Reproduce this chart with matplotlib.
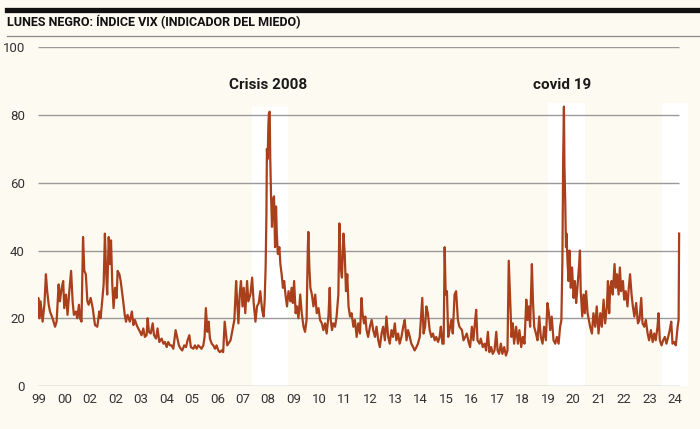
import matplotlib
matplotlib.use('Agg')
import matplotlib.pyplot as plt

# VIX close (x = position on the year axis)
t_9906 = [1998.93, 1998.96, 1999.00, 1999.05, 1999.13, 1999.20, 1999.26, 1999.31, 1999.37, 1999.42,
          1999.52, 1999.62, 1999.68, 1999.76, 1999.81, 1999.88, 1999.94, 1999.98, 2000.05, 2000.11,
          2000.18, 2000.25, 2000.31, 2000.36, 2000.44, 2000.49, 2000.56, 2000.60, 2000.66, 2000.72,
          2000.77, 2000.83, 2000.89, 2000.94, 2001.02, 2001.10, 2001.19, 2001.28, 2001.36, 2001.41,
          2001.46, 2001.53, 2001.58, 2001.62, 2001.67, 2001.73, 2001.78, 2001.82, 2001.87, 2001.92,
          2001.98, 2002.04, 2002.08, 2002.15, 2002.20, 2002.25, 2002.30, 2002.36, 2002.41, 2002.47,
          2002.56, 2002.64, 2002.70, 2002.76, 2002.83, 2002.89, 2002.96, 2003.02, 2003.09, 2003.15,
          2003.22, 2003.26, 2003.31, 2003.38, 2003.46, 2003.51, 2003.59, 2003.65, 2003.72, 2003.81,
          2003.88, 2003.94, 2004.01, 2004.07, 2004.14, 2004.20, 2004.27, 2004.36, 2004.43, 2004.49,
          2004.56, 2004.62, 2004.70, 2004.77, 2004.83, 2004.90, 2004.96, 2005.06, 2005.12, 2005.19,
          2005.25, 2005.32, 2005.38, 2005.45, 2005.50, 2005.55, 2005.61, 2005.66, 2005.71, 2005.78,
          2005.84, 2005.91, 2005.97, 2006.04, 2006.10, 2006.17, 2006.23, 2006.29]
v_9906 = [21, 26, 20, 25, 19, 24, 33, 28, 24, 22,
          20, 17.5, 19, 30, 25, 29, 31, 23, 27, 21,
          28, 34, 25, 21, 22, 20, 24, 20, 19, 44,
          34, 33, 25, 24, 26, 23, 18, 17.5, 22, 20,
          24, 30, 45, 35, 27, 44, 36, 43, 30, 23,
          29, 26, 34, 33, 31, 28, 25, 21, 19, 21,
          19, 22, 18, 19.5, 18, 17, 16, 15, 17, 14.5,
          15, 20, 16, 15.5, 18.5, 15, 14, 17, 13, 14,
          12.5, 13, 11.5, 13, 12, 12, 11, 16.5, 14, 12,
          11, 10.5, 12, 11.5, 13.5, 15, 11.5, 11, 12, 11,
          12, 11.5, 11, 12, 14.5, 23, 16, 19, 14, 12.5,
          12, 11, 12, 10.5, 10, 10.5, 10, 19]

t_0615 = [2006.39, 2006.52, 2006.62, 2006.67, 2006.74, 2006.78, 2006.83, 2006.88, 2006.93, 2006.99,
          2007.04, 2007.10, 2007.17, 2007.22, 2007.30, 2007.37, 2007.43, 2007.50, 2007.56, 2007.63,
          2007.69, 2007.76, 2007.82, 2007.86, 2007.90, 2007.93, 2007.95, 2007.98, 2008.01, 2008.03,
          2008.06, 2008.08, 2008.11, 2008.15, 2008.19, 2008.23, 2008.27, 2008.31, 2008.34, 2008.38,
          2008.44, 2008.48, 2008.53, 2008.58, 2008.63, 2008.68, 2008.74, 2008.80, 2008.87, 2008.92,
          2008.97, 2009.02, 2009.08, 2009.13, 2009.19, 2009.26, 2009.32, 2009.39, 2009.45, 2009.51,
          2009.56, 2009.58, 2009.62, 2009.66, 2009.72, 2009.78, 2009.85, 2009.91, 2009.98, 2010.04,
          2010.11, 2010.17, 2010.24, 2010.30, 2010.37, 2010.42, 2010.46, 2010.51, 2010.56, 2010.63,
          2010.69, 2010.76, 2010.80, 2010.85, 2010.90, 2010.96, 2011.01, 2011.06, 2011.11, 2011.16,
          2011.22, 2011.28, 2011.35, 2011.41, 2011.48, 2011.54, 2011.61, 2011.67, 2011.71, 2011.77,
          2011.82, 2011.87, 2011.93, 2012.00, 2012.07, 2012.13, 2012.20, 2012.26, 2012.33, 2012.39,
          2012.46, 2012.52, 2012.59, 2012.65, 2012.72, 2012.78, 2012.85, 2012.91, 2012.98, 2013.04,
          2013.11, 2013.17, 2013.24, 2013.31, 2013.37, 2013.44, 2013.50, 2013.57, 2013.63, 2013.70,
          2013.76, 2013.83, 2013.89, 2013.96, 2014.02, 2014.06, 2014.11, 2014.17, 2014.22, 2014.28,
          2014.35, 2014.42, 2014.48, 2014.55, 2014.61, 2014.68, 2014.74, 2014.79, 2014.85, 2014.90,
          2014.94, 2014.98, 2015.03, 2015.08, 2015.13, 2015.20, 2015.26, 2015.33, 2015.39, 2015.46,
          2015.52]
v_0615 = [12, 13.5, 17.5, 19.5, 31, 25, 18.5, 27, 31, 23.5,
          29, 21.5, 31, 25, 27, 32, 24.5, 19, 23.5, 24.5,
          28, 22.5, 20.5, 25, 35, 50, 70, 67, 77.5, 80.5,
          81, 68, 57, 47, 55, 56, 41, 53, 45, 39,
          41, 36, 33, 29, 31, 27, 23.5, 28, 25, 29,
          24.5, 31, 21.5, 23.5, 20, 27, 21.5, 17.5, 16, 19.5,
          41, 45.5, 35, 29, 27, 23.5, 27, 21.5, 23, 19.5,
          18.5, 16.5, 18.5, 15.5, 20.5, 29, 19.5, 16.5, 18.5, 17.5,
          20.5, 27, 48, 35, 32, 45, 39, 28, 33, 23.5,
          20.5, 21.5, 17.5, 19.5, 14.5, 18.5, 15.5, 26, 21.5, 18.5,
          20.5, 16.5, 14.5, 17.5, 19.5, 16.5, 14.5, 17.5, 13.5, 11.5,
          15.5, 17.5, 13.5, 20.5, 14.5, 12.5, 16.5, 14.5, 18.5, 13.5,
          15.5, 12.5, 14.5, 17.5, 19.5, 13.5, 16.5, 14.5, 12.5, 11.5,
          10.5, 11.5, 12.5, 14.5, 21.5, 26, 15.5, 17.5, 23.5, 21.5,
          16.5, 14.5, 15.5, 13.5, 14.5, 13, 14.5, 17.5, 12.5, 12.5,
          41, 27, 28, 14.5, 16.5, 19.5, 15.5, 27, 28, 19.5,
          17.5]

t_1524 = [2015.62, 2015.68, 2015.75, 2015.81, 2015.88, 2015.94, 2016.01, 2016.07, 2016.14, 2016.18,
          2016.23, 2016.31, 2016.36, 2016.44, 2016.51, 2016.57, 2016.64, 2016.70, 2016.77, 2016.83,
          2016.90, 2016.97, 2017.02, 2017.08, 2017.15, 2017.21, 2017.28, 2017.35, 2017.41, 2017.46,
          2017.52, 2017.57, 2017.62, 2017.67, 2017.75, 2017.82, 2017.88, 2017.95, 2018.01, 2018.08,
          2018.15, 2018.20, 2018.25, 2018.30, 2018.37, 2018.41, 2018.46, 2018.53, 2018.59, 2018.66,
          2018.72, 2018.79, 2018.85, 2018.92, 2018.98, 2019.04, 2019.09, 2019.15, 2019.22, 2019.29,
          2019.35, 2019.42, 2019.48, 2019.53, 2019.57, 2019.60, 2019.63, 2019.65, 2019.68, 2019.71,
          2019.73, 2019.77, 2019.81, 2019.85, 2019.90, 2019.95, 2020.01, 2020.06, 2020.11, 2020.16,
          2020.22, 2020.26, 2020.29, 2020.35, 2020.40, 2020.45, 2020.50, 2020.56, 2020.61, 2020.66,
          2020.73, 2020.79, 2020.86, 2020.92, 2020.99, 2021.06, 2021.12, 2021.19, 2021.25, 2021.32,
          2021.36, 2021.41, 2021.45, 2021.50, 2021.55, 2021.62, 2021.67, 2021.72, 2021.78, 2021.83,
          2021.88, 2021.95, 2022.00, 2022.06, 2022.13, 2022.18, 2022.23, 2022.29, 2022.34, 2022.40,
          2022.47, 2022.54, 2022.60, 2022.67, 2022.72, 2022.79, 2022.85, 2022.92, 2022.98, 2023.05,
          2023.12, 2023.18, 2023.24, 2023.31, 2023.35, 2023.40, 2023.47, 2023.53, 2023.60, 2023.66,
          2023.73, 2023.79, 2023.85, 2023.90, 2023.96, 2024.03, 2024.10, 2024.14, 2024.16]
v_1524 = [16.5, 13.5, 14.5, 15.5, 13, 11.5, 17.5, 13.5, 19.5, 22.5,
          13.5, 12.5, 14, 11.5, 12.5, 10.5, 16, 10, 11.5, 9.5,
          10.5, 16, 10.5, 9.5, 12.5, 9.5, 11.5, 9, 10.5, 37,
          24.5, 14.5, 18.5, 12.5, 17.5, 12.5, 16.5, 11.5, 14.5, 12.5,
          25.5, 19.5, 23.5, 17.5, 36, 25.5, 17.5, 15.5, 13.5, 20.5,
          14.5, 12.5, 17.5, 13.5, 24.5, 21.5, 16.5, 20.5, 13.5, 12.5,
          14.5, 12.5, 17.5, 19.5, 37, 67, 82.5, 65, 55, 41,
          45, 37, 31, 40, 29, 35, 26, 31, 24.5, 29,
          35, 40, 28, 20.5, 27, 21.5, 28, 21.5, 19.5, 17.5,
          15.5, 21.5, 17.5, 23.5, 15.5, 21.5, 17.5, 25.5, 18.5, 23.5,
          31, 21.5, 29, 31, 27, 36, 29, 33, 27, 35,
          28, 31, 25.5, 28, 23.5, 29, 33, 27, 23.5, 20.5,
          24.5, 18.5, 19.5, 26, 18.5, 17.5, 19.5, 15.5, 13.5, 16.5,
          13, 15.5, 13.5, 17.5, 21.5, 13.5, 12, 13.5, 14.5, 12.5,
          14.5, 16.5, 19, 12.5, 13, 12, 17.5, 19.5, 45]

t = t_9906 + t_0615 + t_1524
vix = v_9906 + v_0615 + v_1524

tick_years = list(range(1999, 2025))
tick_labels = ['99', '00', '02', '02', '03', '04', '05', '06', '07', '08', '09', '10', '11', '12',
               '13', '14', '15', '16', '17', '18', '19', '20', '21', '22', '23', '24']

# highlighted periods (white bands) and their labels
bands = [(2007.36, 2008.78, 82.5), (2019.00, 2020.46, 83.5), (2023.48, 2024.51, 83.5)]
notes = [('Crisis 2008', 2007.98, 89), ('covid 19', 2019.56, 89)]

bg = '#fdfaf2'
red = '#a93f1b'
grid_c = '#9a9a9a'
fam = ['Roboto', 'DejaVu Sans']

fig = plt.figure(figsize=(7, 4.29), dpi=100, facecolor=bg)
ax = fig.add_axes([0.0536, 0.1002, 0.9293, 0.7895], facecolor=bg)

x0, x1 = 1998.93, 2024.51
ax.set_xlim(x0, x1)
ax.set_ylim(0, 100)

for a, b, top in bands:
    ax.fill_between([a, b], 0, top, color='white', lw=0, zorder=0)

ax.hlines([0, 20, 40, 60, 80, 100], x0, 2024.16, color=grid_c, lw=1, zorder=1)
ax.plot(t, vix, color=red, lw=1.6, zorder=3)

for txt, xx, yy in notes:
    ax.text(xx, yy, txt, ha='center', va='center', fontsize=11, fontweight='bold',
            family=fam, color='#1a1a1a')

for s in ax.spines.values():
    s.set_visible(False)
ax.set_xticks(tick_years)
ax.set_xticklabels(tick_labels, family=fam, fontsize=9.5, color='#333333')
ax.set_yticks([0, 20, 40, 60, 80, 100])
ax.set_yticklabels(['0', '20', '40', '60', '80', '100'], family=fam, fontsize=9.5, color='#333333')
ax.tick_params(length=0)
ax.tick_params(axis='y', pad=9)
ax.tick_params(axis='x', pad=5)

# header: black rule, title, thin grey rule
fig.add_artist(plt.Line2D([0.01, 1.0], [0.9767, 0.9767], color='#111111', lw=3.8))
fig.text(0.01, 0.949, 'LUNES NEGRO: ÍNDICE VIX (INDICADOR DEL MIEDO)', ha='left', va='center',
         fontsize=9, fontweight='bold', family=fam, color='#111111')
fig.add_artist(plt.Line2D([0.01, 1.0], [0.917, 0.917], color='#888888', lw=0.9))

fig.savefig('out.png', dpi=100, facecolor=bg)
